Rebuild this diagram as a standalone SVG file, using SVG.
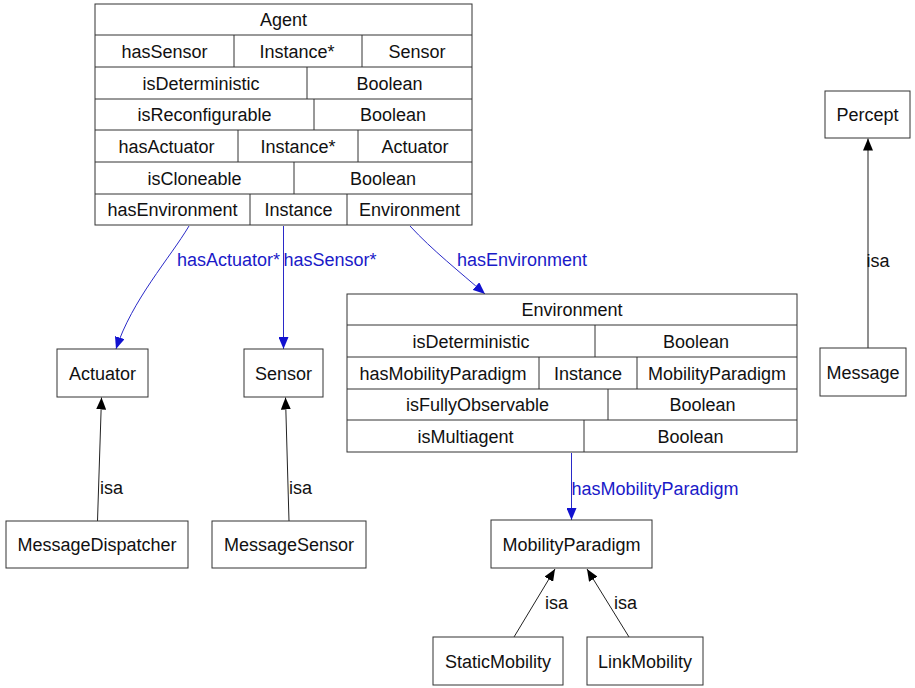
<svg xmlns="http://www.w3.org/2000/svg" width="915" height="688" viewBox="0 0 915 688">
  <style>
    .box { fill: #ffffff; stroke: #333333; stroke-width: 1; }
    .div { stroke: #333333; stroke-width: 1; }
    text { font-family: "Liberation Sans", Arial, sans-serif; font-size: 18px; fill: #111111; }
    .c { text-anchor: middle; }
    .rel { fill: #1a1ac8; }
    .e-rel { fill: none; stroke: #2a2ac8; stroke-width: 1; }
    .e-isa { fill: none; stroke: #222222; stroke-width: 1; }
    .e-isa-g { fill: none; stroke: #6a6a6a; stroke-width: 1.5; }
  </style>
  <defs>
    <marker id="arrow-blue" markerUnits="userSpaceOnUse" markerWidth="12" markerHeight="10" refX="12" refY="5" orient="auto">
      <path d="M0,0 L12,5 L0,10 z" fill="#1212d0"/>
    </marker>
    <marker id="arrow-black" markerUnits="userSpaceOnUse" markerWidth="12" markerHeight="10" refX="12" refY="5" orient="auto">
      <path d="M0,0 L12,5 L0,10 z" fill="#000000"/>
    </marker>
  </defs>

  <rect width="915" height="688" fill="#ffffff"/>

  <!-- connectors -->
  <g id="edges">
    <path class="e-rel" d="M189,226 C170,258 132,300 116,349" marker-end="url(#arrow-blue)"/>
    <path class="e-rel" d="M283.5,226 L283.5,349" marker-end="url(#arrow-blue)"/>
    <path class="e-rel" d="M410,226 C432,250 460,272 485,294" marker-end="url(#arrow-blue)"/>
    <path class="e-rel" d="M571.5,453 L571.5,520" marker-end="url(#arrow-blue)"/>
    <path class="e-isa" d="M97.5,521 L101.5,397.5" marker-end="url(#arrow-black)"/>
    <path class="e-isa" d="M289,521 L285.5,397.5" marker-end="url(#arrow-black)"/>
    <path class="e-isa-g" d="M868,348.5 L868,138.5" marker-end="url(#arrow-black)"/>
    <path class="e-isa" d="M514,637 L555,569" marker-end="url(#arrow-black)"/>
    <path class="e-isa" d="M629,637 L587,569" marker-end="url(#arrow-black)"/>

    <text class="rel" x="177" y="265.5">hasActuator*</text>
    <text class="rel" x="283.5" y="265.5">hasSensor*</text>
    <text class="rel" x="457" y="265.5">hasEnvironment</text>
    <text class="rel" x="571.5" y="495">hasMobilityParadigm</text>
    <text x="100" y="494">isa</text>
    <text x="289" y="494">isa</text>
    <text x="866.5" y="267">isa</text>
    <text x="545" y="609">isa</text>
    <text x="614" y="609">isa</text>
  </g>

  <!-- Agent record -->
  <g id="agent">
    <rect class="box" x="95" y="4" width="377" height="221"/>
    <line class="div" x1="95" y1="35" x2="472" y2="35"/>
    <line class="div" x1="95" y1="67" x2="472" y2="67"/>
    <line class="div" x1="95" y1="99" x2="472" y2="99"/>
    <line class="div" x1="95" y1="130" x2="472" y2="130"/>
    <line class="div" x1="95" y1="162" x2="472" y2="162"/>
    <line class="div" x1="95" y1="194" x2="472" y2="194"/>
    <line class="div" x1="234" y1="35" x2="234" y2="67"/>
    <line class="div" x1="362" y1="35" x2="362" y2="67"/>
    <line class="div" x1="307" y1="67" x2="307" y2="99"/>
    <line class="div" x1="314" y1="99" x2="314" y2="130"/>
    <line class="div" x1="238" y1="130" x2="238" y2="162"/>
    <line class="div" x1="358" y1="130" x2="358" y2="162"/>
    <line class="div" x1="294" y1="162" x2="294" y2="194"/>
    <line class="div" x1="250" y1="194" x2="250" y2="225"/>
    <line class="div" x1="347" y1="194" x2="347" y2="225"/>
    <text class="c" x="283.5" y="26">Agent</text>
    <text class="c" x="164.5" y="57.5">hasSensor</text>
    <text class="c" x="297" y="57.5">Instance*</text>
    <text class="c" x="417" y="57.5">Sensor</text>
    <text class="c" x="201" y="89.5">isDeterministic</text>
    <text class="c" x="389.5" y="89.5">Boolean</text>
    <text class="c" x="204.5" y="121">isReconfigurable</text>
    <text class="c" x="393" y="121">Boolean</text>
    <text class="c" x="166.5" y="152.5">hasActuator</text>
    <text class="c" x="298" y="152.5">Instance*</text>
    <text class="c" x="415" y="152.5">Actuator</text>
    <text class="c" x="194.5" y="184.5">isCloneable</text>
    <text class="c" x="383" y="184.5">Boolean</text>
    <text class="c" x="172.5" y="216">hasEnvironment</text>
    <text class="c" x="298.5" y="216">Instance</text>
    <text class="c" x="409.5" y="216">Environment</text>
  </g>

  <!-- Environment record -->
  <g id="environment">
    <rect class="box" x="347" y="294" width="450" height="158"/>
    <line class="div" x1="347" y1="325" x2="797" y2="325"/>
    <line class="div" x1="347" y1="357" x2="797" y2="357"/>
    <line class="div" x1="347" y1="389" x2="797" y2="389"/>
    <line class="div" x1="347" y1="420" x2="797" y2="420"/>
    <line class="div" x1="595" y1="325" x2="595" y2="357"/>
    <line class="div" x1="539" y1="357" x2="539" y2="389"/>
    <line class="div" x1="637" y1="357" x2="637" y2="389"/>
    <line class="div" x1="608" y1="389" x2="608" y2="420"/>
    <line class="div" x1="584" y1="420" x2="584" y2="452"/>
    <text class="c" x="572" y="316">Environment</text>
    <text class="c" x="471" y="347.5">isDeterministic</text>
    <text class="c" x="696" y="347.5">Boolean</text>
    <text class="c" x="443" y="379.5">hasMobilityParadigm</text>
    <text class="c" x="588" y="379.5">Instance</text>
    <text class="c" x="717" y="379.5">MobilityParadigm</text>
    <text class="c" x="477.5" y="411">isFullyObservable</text>
    <text class="c" x="702.5" y="411">Boolean</text>
    <text class="c" x="465.5" y="442.5">isMultiagent</text>
    <text class="c" x="690.5" y="442.5">Boolean</text>
  </g>

  <g id="actuator">
    <rect class="box" x="57" y="349" width="91" height="48"/>
    <text class="c" x="102.5" y="379.5">Actuator</text>
  </g>
  <g id="sensor">
    <rect class="box" x="244" y="349" width="79" height="48"/>
    <text class="c" x="283.5" y="379.5">Sensor</text>
  </g>
  <g id="percept">
    <rect class="box" x="825" y="91" width="85" height="47"/>
    <text class="c" x="867.5" y="121">Percept</text>
  </g>
  <g id="message">
    <rect class="box" x="820" y="348" width="86" height="48"/>
    <text class="c" x="863" y="378.5">Message</text>
  </g>
  <g id="message-dispatcher">
    <rect class="box" x="6" y="521" width="182" height="47"/>
    <text class="c" x="97" y="551">MessageDispatcher</text>
  </g>
  <g id="message-sensor">
    <rect class="box" x="212" y="521" width="154" height="47"/>
    <text class="c" x="289" y="551">MessageSensor</text>
  </g>
  <g id="mobility-paradigm">
    <rect class="box" x="491" y="520" width="161" height="48"/>
    <text class="c" x="571.5" y="550.5">MobilityParadigm</text>
  </g>
  <g id="static-mobility">
    <rect class="box" x="433" y="637" width="130" height="48"/>
    <text class="c" x="498" y="667.5">StaticMobility</text>
  </g>
  <g id="link-mobility">
    <rect class="box" x="587" y="637" width="116" height="48"/>
    <text class="c" x="645" y="667.5">LinkMobility</text>
  </g>
</svg>
